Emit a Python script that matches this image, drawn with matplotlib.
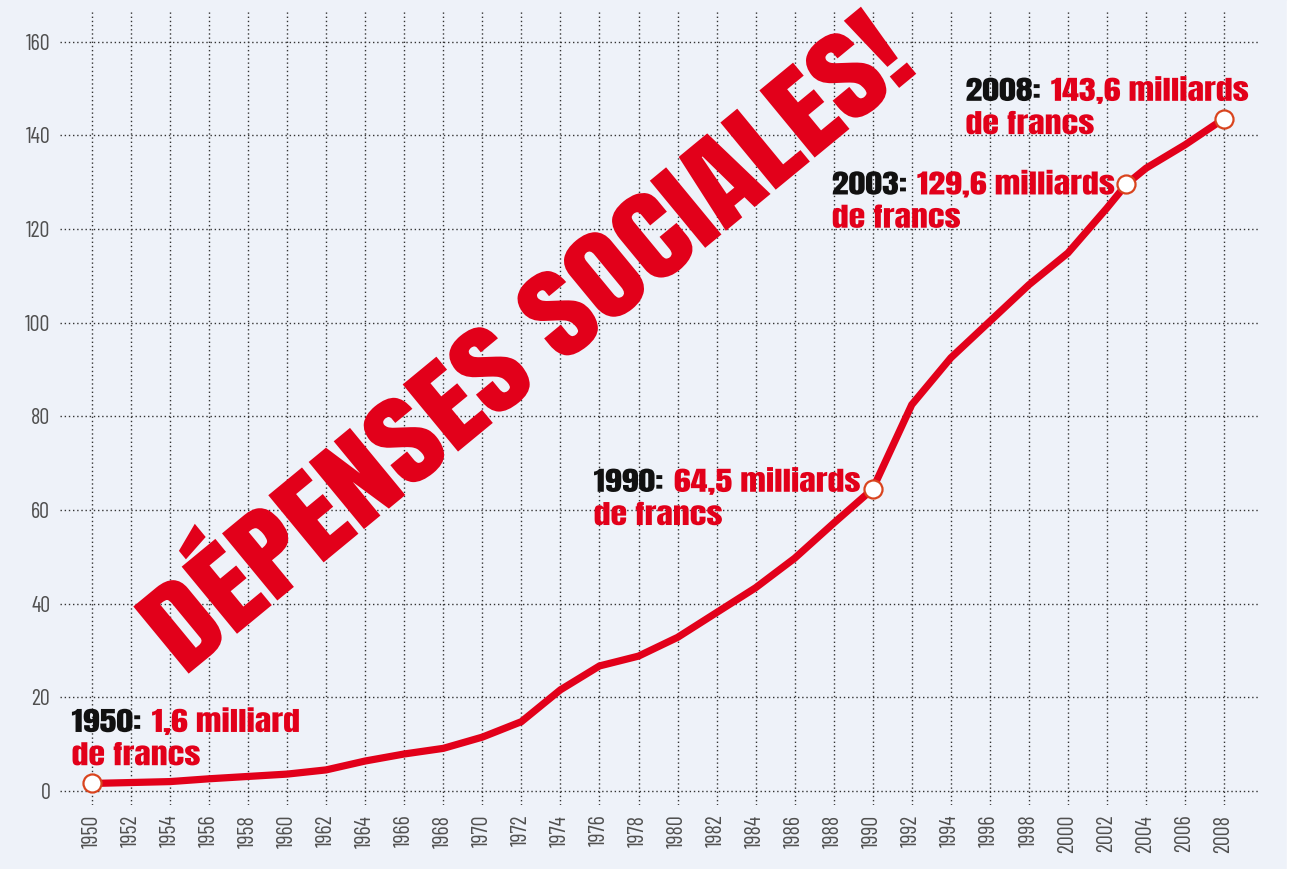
import matplotlib
matplotlib.use("Agg")
import matplotlib.pyplot as plt
from matplotlib import font_manager
from matplotlib.font_manager import FontProperties
from matplotlib.patheffects import AbstractPathEffect
from matplotlib.textpath import TextPath
from matplotlib.transforms import Affine2D, offset_copy
from matplotlib.patches import Rectangle

# Dépenses sociales, en milliards de francs
years = [1950, 1952, 1954, 1956, 1958, 1960, 1962, 1964, 1966, 1968,
         1970, 1972, 1974, 1976, 1978, 1980, 1982, 1984, 1986, 1988,
         1990, 1992, 1994, 1996, 1998, 2000, 2002, 2003, 2004, 2006, 2008]
spending = [1.6, 1.8, 2.0, 2.6, 3.1, 3.6, 4.5, 6.4, 7.9, 9.1,
            11.5, 14.8, 21.6, 26.7, 28.8, 32.8, 38.1, 43.4, 49.7, 57.2,
            64.5, 82.5, 92.5, 100.3, 108.1, 114.9, 124.5, 129.6, 133.0, 138.0, 143.6]

highlight_years = [1950, 1990, 2003, 2008]
# coin gauche des étiquettes (année, ligne de base)
label_pos = [(1948.95, 12.6), (1975.7, 63.9), (1987.9, 127.4), (1994.75, 147.4)]

x_ticks = list(range(1950, 2009, 2))
y_ticks = list(range(0, 161, 20))

RED = "#E2001A"
BG = "#EEF2F9"
DPI = 100

installed = {f.name for f in font_manager.fontManager.ttflist}


def pick(*names):
    return next(n for n in names + ("DejaVu Sans",) if n in installed)


heavy = pick("Anton", "Bebas Neue", "Oswald")
light = pick("Barlow Condensed", "Fira Sans Extra Condensed", "Roboto Condensed",
             "IBM Plex Sans Condensed")


def size_for_cap(fp, cap_px, glyph="D"):
    """taille en points pour obtenir une hauteur de capitale donnée (px)"""
    h = TextPath((0, 0), glyph, size=100, prop=fp).get_extents().height
    return 100 * cap_px / h * 72 / DPI


class Stretch(AbstractPathEffect):
    """Etire le texte dans son propre repère, à partir de son origine."""

    def __init__(self, sx=1.0, sy=1.0):
        super().__init__()
        self.sx, self.sy = sx, sy

    def draw_path(self, renderer, gc, tpath, affine, rgbFace=None):
        renderer.draw_path(gc, tpath, Affine2D().scale(self.sx, self.sy) + affine, rgbFace)


fp_tick = FontProperties(family=light, weight="normal")
fp_bold = FontProperties(family=heavy, weight="bold")
tick_size = size_for_cap(fp_tick, 16, "0")
label_size = size_for_cap(fp_bold, 23, "1")
LABEL_SX = 1.27

fig = plt.figure(figsize=(12.91, 8.69), dpi=DPI, facecolor=BG)
ax = fig.add_axes([60 / 1291, 64 / 869, 1198 / 1291, 795 / 869])
ax.set_facecolor(BG)
fig.add_artist(Rectangle((1287 / 1291, 0), 4 / 1291, 1, transform=fig.transFigure,
                         color="white", zorder=-1))

ax.set_xlim(1948.36, 2009.74)
ax.set_ylim(-3.0, 166.8)
for s in ax.spines.values():
    s.set_visible(False)

ax.set_xticks(x_ticks)
ax.set_yticks(y_ticks)
ax.set_xticklabels([str(y) for y in x_ticks], rotation=90, fontproperties=fp_tick,
                   fontsize=tick_size, color="#505050")
ax.set_yticklabels([str(v) for v in y_ticks], fontproperties=fp_tick,
                   fontsize=tick_size, color="#505050")
ax.tick_params(length=0)
ax.tick_params(axis="x", pad=7)
ax.tick_params(axis="y", pad=7)
ax.grid(True, color="#333333", linewidth=1.0, linestyle=(0, (1, 2)))
ax.set_axisbelow(True)

# titre façon tampon
title = "DÉPENSES SOCIALES!"
w100 = TextPath((0, 0), title, size=100, prop=fp_bold).get_extents().width
size_px = 100 * 943 / w100
cap_px = TextPath((0, 0), "D", size=100, prop=fp_bold).get_extents().height * size_px / 100
ax.text(1954.76, 24.4, title, color=RED, fontproperties=fp_bold, fontsize=size_px * 72 / DPI,
        rotation=39.5, rotation_mode="anchor", ha="left", va="baseline", zorder=2,
        path_effects=[Stretch(1.0, 87 / cap_px)])

# courbe
ax.plot(years, spending, color=RED, linewidth=5.2, solid_joinstyle="miter",
        solid_capstyle="butt", zorder=3)
hl_vals = [spending[years.index(y)] for y in highlight_years]
ax.plot(highlight_years, hl_vals, linestyle="none", marker="o", markersize=13,
        markerfacecolor="white", markeredgecolor="#D9441E", markeredgewidth=1.6, zorder=4)

# étiquettes : année en noir, valeur en rouge juste après
renderer = fig.canvas.get_renderer()
stretch = [Stretch(LABEL_SX, 1.0)]
for yr, val, (lx, ly) in zip(highlight_years, hl_vals, label_pos):
    unit = "milliard" if val < 2 else "milliards"
    t = ax.text(lx, ly, f"{yr}:", color="#111111", fontproperties=fp_bold,
                fontsize=label_size, ha="left", va="baseline", zorder=5, path_effects=stretch)
    dx = t.get_window_extent(renderer).width * LABEL_SX + 10
    ax.text(lx, ly, f"{val:.1f}".replace(".", ",") + f" {unit}", color=RED,
            fontproperties=fp_bold, fontsize=label_size, ha="left", va="baseline", zorder=5,
            transform=offset_copy(ax.transData, fig=fig, x=dx, y=0, units="dots"),
            path_effects=stretch)
    ax.text(lx, ly - 7.1, "de francs", color=RED, fontproperties=fp_bold,
            fontsize=label_size, ha="left", va="baseline", zorder=5, path_effects=stretch)

fig.savefig("out.png", dpi=DPI, facecolor=BG)
